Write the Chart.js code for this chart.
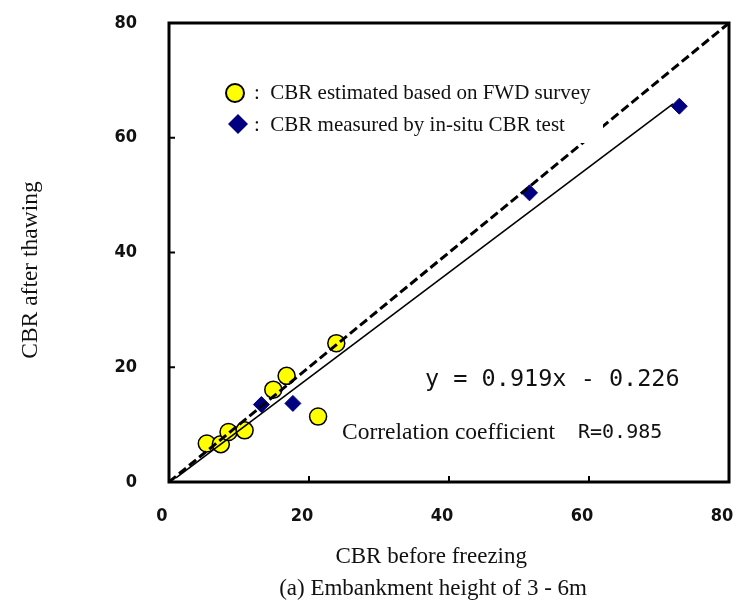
<!DOCTYPE html>
<html lang="en">
<head>
    <meta charset="UTF-8">
    <title>CBR before freezing vs after thawing</title>
    <script src="https://cdn.jsdelivr.net/npm/chart.js"></script>
    <style>
        body { margin: 0; background: #fff; }
        #wrap { width: 739px; height: 605px; }
    </style>
</head>
<body>
    <div id="wrap"><canvas id="cbrChart"></canvas></div>

    <script>
        // values
        const fwdX = [5.4, 7.4, 8.5, 10.8, 14.9, 16.8, 21.3, 23.9];
        const fwdY = [6.7, 6.6, 8.7, 9.0, 16.1, 18.5, 11.4, 24.2];
        const situX = [13.2, 17.7, 51.5, 72.9];
        const situY = [13.5, 13.7, 50.4, 65.5];
        const equalX = [0, 80];
        const equalY = [0, 80];
        const fitX = [1, 72];
        const fitY = [0.7, 65.9];
        const axisTicks = [0, 20, 40, 60, 80];

        const serif = '"Liberation Serif", "Times New Roman", serif';
        const tickFont = '"DejaVu Sans Condensed", "DejaVu Sans", sans-serif';

        const pts = (xs, ys) => xs.map((x, i) => ({ x: x, y: ys[i] }));

        // frame, inward ticks, legend box and the text notes
        const extras = {
            id: 'extras',
            afterDatasetsDraw(chart) {
                const c = chart.ctx;
                const a = chart.chartArea;
                const xs = chart.scales.x, ys = chart.scales.y;
                c.save();

                // legend box (covers the 1:1 line like in the original)
                c.fillStyle = '#fff';
                c.fillRect(213, 75, 390, 68);
                c.beginPath();
                c.arc(235, 93, 9, 0, Math.PI * 2);
                c.fillStyle = '#ffff00';
                c.fill();
                c.lineWidth = 2;
                c.strokeStyle = '#000';
                c.stroke();
                c.beginPath();
                c.moveTo(238, 114); c.lineTo(248, 124); c.lineTo(238, 134); c.lineTo(228, 124);
                c.closePath();
                c.fillStyle = '#000080';
                c.fill();
                c.fillStyle = '#111';
                c.font = '21px ' + serif;
                c.textBaseline = 'middle';
                c.fillText(':  CBR estimated based on FWD survey', 254, 93);
                c.fillText(':  CBR measured by in-situ CBR test', 254, 125);

                // equation and correlation
                c.font = '23.5px "DejaVu Sans Mono", monospace';
                c.fillText('y = 0.919x - 0.226', 425, 380);
                c.font = '23.5px ' + serif;
                c.fillText('Correlation coefficient', 342, 433);
                c.font = '20px "DejaVu Sans Mono", monospace';
                c.fillText('R=0.985', 578, 433);

                // frame
                c.strokeStyle = '#000';
                c.lineWidth = 3;
                c.strokeRect(a.left, a.top, a.right - a.left, a.bottom - a.top);

                // inward tick marks
                c.lineWidth = 2;
                axisTicks.slice(1, -1).forEach(v => {
                    const px = xs.getPixelForValue(v);
                    c.beginPath(); c.moveTo(px, a.bottom); c.lineTo(px, a.bottom - 6); c.stroke();
                    const py = ys.getPixelForValue(v);
                    c.beginPath(); c.moveTo(a.left, py); c.lineTo(a.left + 6, py); c.stroke();
                });

                // axis titles and caption
                c.fillStyle = '#111';
                c.font = '23px ' + serif;
                c.textAlign = 'right';
                c.fillText('CBR before freezing', 527, 557);
                c.fillText('(a) Embankment height of 3 - 6m', 587, 589);
                c.save();
                c.translate(31, 270);
                c.rotate(-Math.PI / 2);
                c.textAlign = 'center';
                c.font = '23.5px ' + serif;
                c.fillText('CBR after thawing', 0, 0);
                c.restore();

                c.restore();
            }
        };

        const noEdgePad = s => {
            s.paddingLeft = 0; s.paddingRight = 0;
            s.paddingTop = 0; s.paddingBottom = 0;
        };

        const ctx = document.getElementById('cbrChart').getContext('2d');
        const cbrChart = new Chart(ctx, {
            type: 'scatter',
            data: {
                datasets: [
                    {
                        label: '1:1',
                        data: pts(equalX, equalY),
                        showLine: true,
                        borderColor: '#000',
                        borderWidth: 3,
                        borderDash: [9, 4],
                        pointRadius: 0
                    },
                    {
                        label: 'Regression',
                        data: pts(fitX, fitY),
                        showLine: true,
                        borderColor: '#000',
                        borderWidth: 1.6,
                        pointRadius: 0
                    },
                    {
                        label: 'CBR estimated based on FWD survey',
                        data: pts(fwdX, fwdY),
                        pointStyle: 'circle',
                        pointRadius: 8.5,
                        backgroundColor: '#ffff00',
                        borderColor: '#000',
                        borderWidth: 1.5
                    },
                    {
                        label: 'CBR measured by in-situ CBR test',
                        data: pts(situX, situY),
                        pointStyle: 'rectRot',
                        pointRadius: 8,
                        backgroundColor: '#000080',
                        borderColor: '#000080',
                        borderWidth: 1
                    }
                ]
            },
            options: {
                responsive: true,
                maintainAspectRatio: false,
                animation: false,
                layout: { padding: { top: 23, right: 9, left: 0, bottom: 0 } },
                plugins: {
                    legend: { display: false },
                    tooltip: { enabled: false }
                },
                scales: {
                    x: {
                        type: 'linear',
                        min: 0,
                        max: 80,
                        afterFit: s => { s.height = 123; noEdgePad(s); },
                        afterBuildTicks: s => { s.ticks = axisTicks.map(v => ({ value: v })); },
                        grid: { display: false, drawTicks: false },
                        border: { display: false },
                        ticks: {
                            padding: 24,
                            labelOffset: -7,
                            color: '#111',
                            font: { family: tickFont, size: 18, weight: 'bold' }
                        }
                    },
                    y: {
                        type: 'linear',
                        min: 0,
                        max: 80,
                        afterFit: s => { s.width = 169; noEdgePad(s); },
                        afterBuildTicks: s => { s.ticks = axisTicks.map(v => ({ value: v })); },
                        grid: { display: false, drawTicks: false },
                        border: { display: false },
                        ticks: {
                            padding: 32,
                            color: '#111',
                            font: { family: tickFont, size: 18, weight: 'bold' }
                        }
                    }
                }
            },
            plugins: [extras]
        });
    </script>
</body>
</html>
